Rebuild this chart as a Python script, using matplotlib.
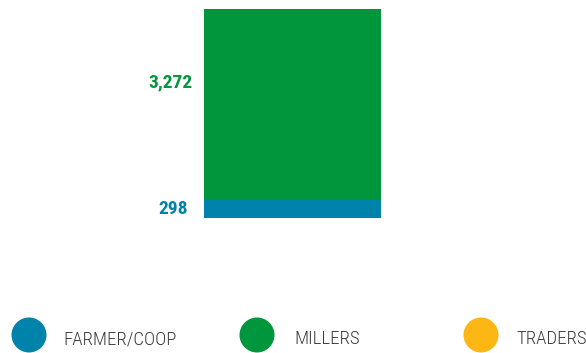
import matplotlib
matplotlib.use("Agg")
import matplotlib.pyplot as plt
from matplotlib.patches import Circle

categories = ["FARMER/COOP", "MILLERS", "TRADERS"]
values = [298, 3272, 0]
labels = ["298", "3,272", ""]
colors = ["#0083AB", "#00963C", "#FDB714"]

fam = ["Roboto Condensed", "DejaVu Sans"]

W, H = 586, 353
fig = plt.figure(figsize=(W / 100, H / 100), dpi=100)
ax = fig.add_axes([204 / W, (H - 217.5) / H, (381 - 204) / W, (217.5 - 9) / H])

bottom = 0
for cat, v, lab, c in zip(categories, values, labels, colors):
    ax.bar(0, v, width=1.0, bottom=bottom, color=c, linewidth=0)
    bottom += v

total = sum(values)
ax.set_xlim(-0.5, 0.5)
ax.set_ylim(0, total)
ax.axis("off")

# value labels to the left of the bar
ax.text(-0.59, values[0] / 2, labels[0], ha="right", va="center",
        color=colors[0], fontsize=14, fontweight="bold", family=fam)
ax.text(-0.565, values[0] + values[1] * 0.615, labels[1], ha="right", va="center",
        color=colors[1], fontsize=14, fontweight="bold", family=fam)

# legend
leg_x = [29, 257, 481]
text_x = [63, 294, 516]
cy = H - 335
for cat, c, lx, tx in zip(categories, colors, leg_x, text_x):
    fig.patches.append(Circle((lx / 100, cy / 100), 0.175, transform=fig.dpi_scale_trans,
                              facecolor=c, edgecolor="none"))
    fig.text(tx / W, (cy - 4) / H, cat, ha="left", va="center", fontsize=13.5,
             color="#3a3a3a", family=fam, fontweight="light")

fig.savefig("out.png", dpi=100)
